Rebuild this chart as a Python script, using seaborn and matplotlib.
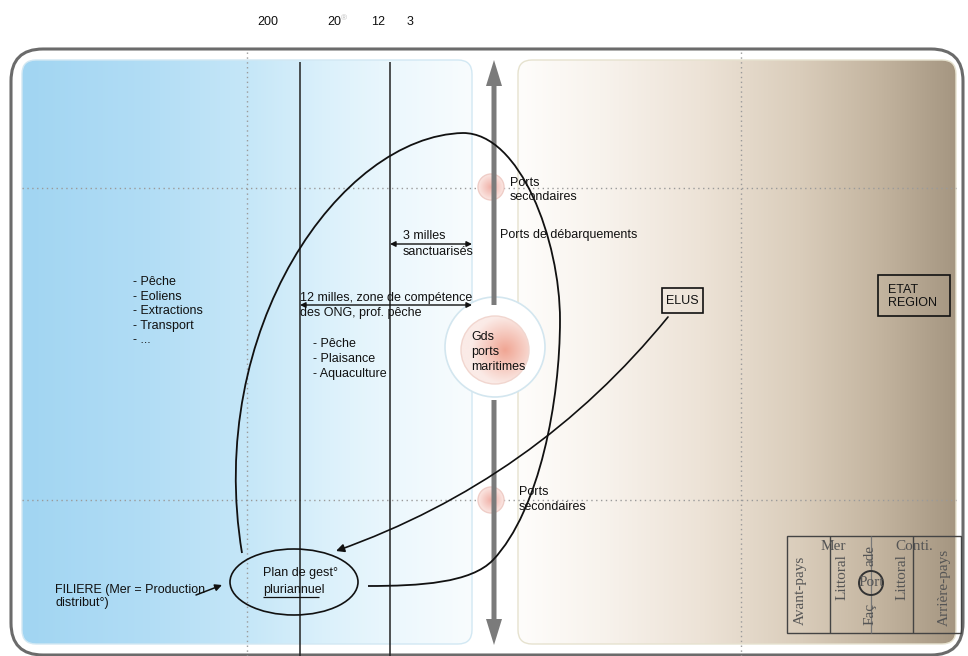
import numpy as np
import matplotlib.pyplot as plt
import seaborn as sns
from matplotlib.patches import FancyBboxPatch, Circle, Ellipse, FancyArrowPatch, PathPatch, Rectangle
from matplotlib.path import Path
from matplotlib.colors import LinearSegmentedColormap, to_rgb

sns.set_theme(style="white")
plt.rcParams['font.family'] = ['Liberation Sans', 'DejaVu Sans']

W, H = 968, 656
INK = "#111111"
FS = 9
SERIF = ["Liberation Serif", "DejaVu Serif"]

# scale of distances at the top (milles)
scale_labels = ["200", "20", "12", "3"]

# activities
sea_uses = ["- Pêche", "- Eoliens", "- Extractions", "- Transport", "- ..."]
coast_uses = ["- Pêche", "- Plaisance", "- Aquaculture"]

# ports along the coast
ports_top = ["Ports", "secondaires"]
ports_landing = ["Ports de débarquements"]
ports_big = ["Gds", "ports", "maritimes"]
ports_bottom = ["Ports", "secondaires"]
zone3 = ["3 milles", "sanctuarisés"]
zone12 = ["12 milles, zone de compétence", "des ONG, prof. pêche"]
actors_local = ["ELUS"]
actors_state = ["ETAT", "REGION"]
plan_text = ["Plan de gest°", "pluriannuel"]
filiere_text = ["FILIERE (Mer = Production", "distribut°)"]

# small legend box (Façade is cut by the port circle)
legend_cols = ["Avant-pays", "Littoral", "Faç", "ade", "Littoral", "Arrière-pays"]
legend_tops = ["Mer", "Conti."]
legend_port = "Port"

# ---- layout (pixels) ----
scale_x = [268, 334, 378, 410]
limit_x = [300, 390]
dotted_x = [247, 741]
dotted_y = [188, 500]
small_port_y = [187, 500]
legend_col_x = [800, 842, 870, 870, 902, 944]
legend_col_y = [590, 577, 614, 556, 577, 587]


def lines(ax, x, y0, dy, items, ha="left"):
    for i, s in enumerate(items):
        ax.text(x, y0 + i * dy, s, ha=ha, va="center", fontsize=FS, color=INK, zorder=8)


def hgrad(ax, patch, x0, x1, y0, y1, stops, z):
    cmap = LinearSegmentedColormap.from_list("g", [((x - x0) / (x1 - x0), c) for x, c in stops])
    im = ax.imshow(np.linspace(0, 1, 256)[None, :], cmap=cmap, extent=(x0, x1, y1, y0),
                   aspect="auto", zorder=z, interpolation="bilinear")
    im.set_clip_path(patch)


def radial(ax, cx, cy, r, inner, outer, edge, z, off=(0.0, 0.0)):
    xs = np.linspace(-1, 1, 200)
    X, Y = np.meshgrid(xs, xs)
    D = np.clip(np.sqrt((X - off[0]) ** 2 + (Y - off[1]) ** 2), 0, 1)[..., None]
    img = np.array(to_rgb(inner)) * (1 - D) + np.array(to_rgb(outer)) * D
    circ = Circle((cx, cy), r, fc="none", ec=edge, lw=1.0, zorder=z + 0.1)
    ax.add_patch(circ)
    im = ax.imshow(img, extent=(cx - r, cx + r, cy + r, cy - r), zorder=z, interpolation="bilinear")
    im.set_clip_path(circ)


fig = plt.figure(figsize=(W / 100, H / 100), dpi=100)
ax = fig.add_axes([0, 0, 1, 1])

# frame and the two halves (sea / land)
outer = FancyBboxPatch((11, 49), 952, 606, boxstyle="round,pad=0,rounding_size=32",
                       fc="white", ec="#6b6b6b", lw=2.2, zorder=0)
ax.add_patch(outer)
sea = FancyBboxPatch((22, 60), 450, 584, boxstyle="round,pad=0,rounding_size=14",
                     fc="none", ec="#d2e8f3", lw=1.0, zorder=2)
land = FancyBboxPatch((518, 60), 438, 584, boxstyle="round,pad=0,rounding_size=14",
                      fc="none", ec="#e6e2cf", lw=1.0, zorder=2)
ax.add_patch(sea)
ax.add_patch(land)
hgrad(ax, sea, 22, 472, 60, 644,
      [(22, "#a1d5f2"), (150, "#b2ddf5"), (250, "#c6e7f8"), (330, "#dcf1fb"),
       (400, "#edf8fd"), (472, "#f8fcfe")], 1)
hgrad(ax, land, 518, 956, 60, 644,
      [(518, "#fefdfb"), (600, "#f8f3ed"), (700, "#ede3d7"), (800, "#dacdbb"),
       (880, "#c3b49f"), (956, "#a59681")], 1)

# dotted guides
ax.hlines(dotted_y, 22, 956, colors="#9a9a9a", lw=1.0, linestyles=(0, (1, 2.5)), zorder=3)
ax.vlines(dotted_x, 52, H, colors="#9a9a9a", lw=1.0, linestyles=(0, (1, 2.5)), zorder=3)

# big harbour ring + small ports
ax.add_patch(Circle((495, 347), 50, fc="white", ec="#d3e6ef", lw=1.2, zorder=3))
radial(ax, 495, 350, 34, "#f0a593", "#fbebe7", "#f1d6cf", 4, off=(0.3, 0.0))
for y in small_port_y:
    radial(ax, 491, y, 13, "#f0b0a7", "#fbe7e3", "#efcdc7", 4)

# central coast axis (grey arrows)
ax.arrow(494, 305, 0, -245, width=5, head_width=16, head_length=26,
         length_includes_head=True, fc="#7b7b7b", ec="none", zorder=5)
ax.arrow(494, 400, 0, 245, width=5, head_width=16, head_length=26,
         length_includes_head=True, fc="#7b7b7b", ec="none", zorder=5)

# 12 / 3 milles limits
ax.vlines(limit_x, 62, H, colors="#222222", lw=1.1, zorder=6)

# scale labels
for lab, x in zip(scale_labels, scale_x):
    ax.text(x, 22, lab, ha="center", va="center", fontsize=FS, color=INK)
ax.text(344, 19, "®", ha="center", va="center", fontsize=6, color="#bbbbbb")

# zone arrows
for x0, y in [(390, 244), (300, 305)]:
    ax.annotate("", xy=(472, y), xytext=(x0, y),
                arrowprops=dict(arrowstyle="<|-|>", color=INK, lw=1.0, mutation_scale=8,
                                shrinkA=0, shrinkB=0), zorder=7)
lines(ax, 403, 236, 16, zone3)
lines(ax, 300, 298, 15, zone12)

# uses
lines(ax, 133, 282, 14.5, sea_uses)
lines(ax, 313, 344, 15, coast_uses)

# ports
lines(ax, 510, 183, 14.5, ports_top)
lines(ax, 500, 235, 15, ports_landing)
lines(ax, 471, 337, 15, ports_big)
lines(ax, 519, 492, 14.5, ports_bottom)

# actors
ax.add_patch(Rectangle((662, 288), 41, 25, fc="none", ec=INK, lw=1.2, zorder=7))
lines(ax, 682.5, 301, 0, actors_local, ha="center")
ax.add_patch(Rectangle((878, 275), 72, 41, fc="none", ec=INK, lw=1.2, zorder=7))
lines(ax, 888, 290, 13.5, actors_state)

# management plan
ax.add_patch(Ellipse((294, 582), 128, 66, fc="none", ec=INK, lw=1.2, zorder=7))
lines(ax, 263, 573, 16.5, plan_text)
ax.hlines(597, 263, 319, colors=INK, lw=0.9, zorder=8)
lines(ax, 55, 590, 13, filiere_text)
ax.annotate("", xy=(222, 585), xytext=(196, 595),
            arrowprops=dict(arrowstyle="-|>", color=INK, lw=1.1, mutation_scale=10,
                            shrinkA=0, shrinkB=0), zorder=8)

# big loop around the coastal zone
verts = [(242, 553),
         (205, 330), (340, 136), (463, 133),
         (520, 133), (560, 240), (560, 320),
         (560, 400), (540, 510), (493, 560),
         (471, 583), (420, 586), (368, 586)]
codes = [Path.MOVETO] + [Path.CURVE4] * 12
ax.add_patch(PathPatch(Path(verts, codes), fc="none", ec=INK, lw=1.3, zorder=7))

# elus -> plan
ax.add_patch(FancyArrowPatch((668, 317), (336, 551), connectionstyle="arc3,rad=-0.14",
                             arrowstyle="-|>", mutation_scale=12, color=INK, lw=1.2,
                             shrinkA=0, shrinkB=0, zorder=7))

# legend box (bottom right)
LG = "#555555"
ax.add_patch(Rectangle((787, 536), 174, 97, fc="none", ec="#444444", lw=1.0, zorder=7))
ax.vlines([830, 913], 536, 633, colors="#444444", lw=1.0, zorder=7)
ax.vlines(871, 536, 633, colors="#777777", lw=0.9, zorder=7)
ax.add_patch(Circle((871, 583), 12, fc="none", ec="#333333", lw=1.4, zorder=8))
for lab, x, y in zip(legend_cols, legend_col_x, legend_col_y):
    ax.text(x, y, lab, rotation=90, ha="center", va="center",
            fontsize=11, color=LG, family=SERIF, zorder=8)
ax.text(871, 583, legend_port, ha="center", va="center", fontsize=11, color=LG,
        family=SERIF, zorder=9)
ax.text(833, 546, legend_tops[0], ha="center", va="center", fontsize=11, color=LG,
        family=SERIF, zorder=8)
ax.text(914, 546, legend_tops[1], ha="center", va="center", fontsize=11, color=LG,
        family=SERIF, zorder=8)

ax.set_xlim(0, W)
ax.set_ylim(H, 0)
ax.axis("off")
fig.savefig("out.png", dpi=100, facecolor="white")
